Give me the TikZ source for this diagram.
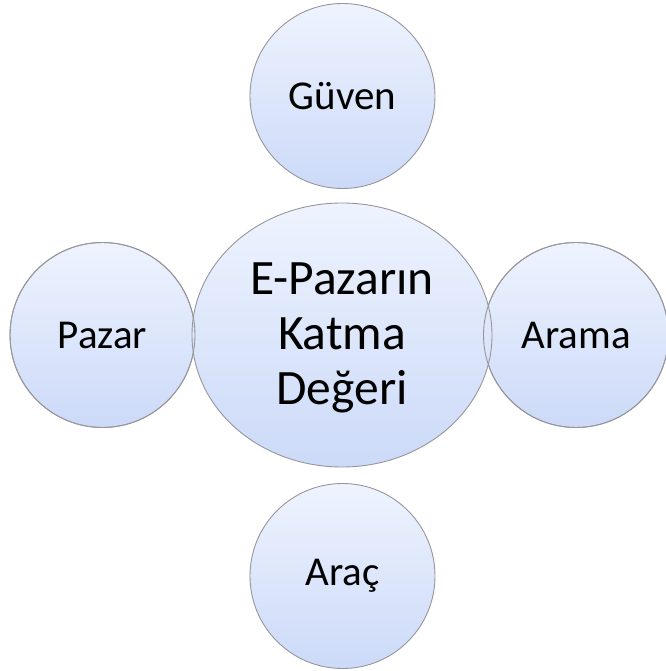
\documentclass[tikz,border=0pt]{standalone}
\usepackage{fontspec}
\setmainfont{Carlito}
\usetikzlibrary{shapes.geometric}
\definecolor{bubtop}{RGB}{238,243,254}
\definecolor{bubbot}{RGB}{204,218,248}
\definecolor{bubline}{RGB}{150,150,155}
\tikzset{
  bubble/.style={circle, minimum size=185pt, inner sep=0pt,
    top color=bubtop, bottom color=bubbot, draw=bubline, line width=0.9pt,
    font=\fontsize{41}{49}\selectfont},
  hub/.style={ellipse, minimum width=300pt, minimum height=264pt, inner sep=0pt,
    top color=bubtop, bottom color=bubbot, draw=bubline, line width=0.9pt,
    align=center, font=\fontsize{49.5}{55}\selectfont},
  rim/.style={draw=bubline, line width=0.9pt}
}
\begin{document}
\begin{tikzpicture}[x=1pt,y=-1pt]
  \useasboundingbox (0,0) rectangle (665,671);
  % outer bubbles
  \node[bubble] (guven) at (342.5,96) {Güven};
  \node[bubble] (pazar) at (102.5,335) {Pazar};
  \node[bubble] (arama) at (576,335) {Arama};
  \node[bubble] (arac)  at (342.5,576) {Araç};
  % central bubble, its text set a little below the geometric centre
  \node[hub] (core) at (342,335) {};
  \node[font=\fontsize{49.5}{55}\selectfont, align=center] (corelabel)
    at ([yshift=-3pt]core.center) {E-Pazarın\\Katma\\Değeri};
  % side rims kept visible where they overlap the centre
  \draw[rim] (pazar.center) circle[radius=92.5pt];
  \draw[rim] (arama.center) circle[radius=92.5pt];
\end{tikzpicture}
\end{document}
